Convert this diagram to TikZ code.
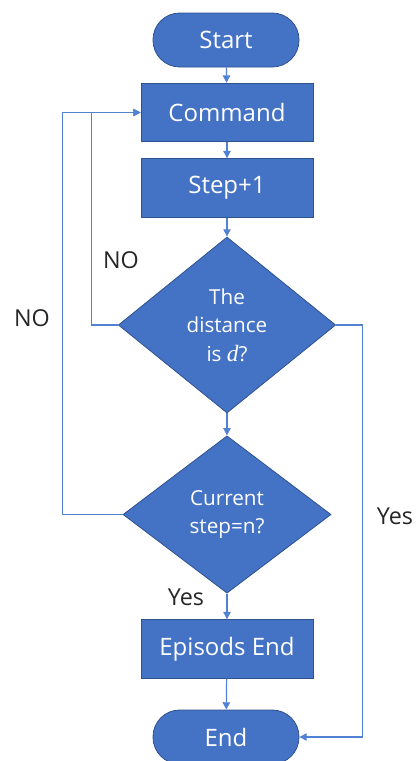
\documentclass[tikz,border=0pt]{standalone}
\usepackage{fontspec}
\setmainfont{Open Sans}
\newfontfamily\mathvar{Liberation Serif}
\usetikzlibrary{shapes.geometric,arrows.meta}
\definecolor{boxfill}{HTML}{4472C4}
\definecolor{boxline}{HTML}{2F528F}
\definecolor{flow}{HTML}{5081D3}
\begin{document}
\begin{tikzpicture}[x=0.75pt,y=-0.75pt,
  base/.style={fill=boxfill,draw=boxline,line width=0.6pt,text=white,font=\fontsize{18}{21}\selectfont,inner sep=0pt,align=center},
  terminal/.style={base,rectangle,rounded corners=20pt,minimum width=109.5pt,minimum height=40.5pt},
  process/.style={base,rectangle,minimum width=129pt,minimum height=44pt},
  decision/.style={base,diamond,font=\fontsize{15.5}{21.5}\selectfont},
  arr/.style={draw=flow,line width=0.9pt,-{Triangle[length=5.5pt,width=5.5pt]}},
  lbl/.style={font=\fontsize{17.5}{20}\selectfont,text=black!85,inner sep=0pt}]
\useasboundingbox (0,0) rectangle (416,761);

\node[terminal] (start) at (226,40) {Start};
\node[process] (cmd) at (227,112.5) {Command};
\node[process] (step) at (227,188) {Step+1};
\node[decision,minimum width=163pt,minimum height=132pt] (dist) at (227,325) {The\\distance\\is {\mathvar\itshape\fontsize{17.5}{20}\selectfont d}?};
\node[decision,minimum width=156pt,minimum height=118pt] (cur) at (227,514.5) {Current\\step=n?};
\node[process] (epi) at (227,649) {Episods End};
\node[terminal] (end) at (226,737) {End};

\draw[arr] (start) -- (cmd);
\draw[arr] (cmd) -- (step);
\draw[arr] (step) -- (dist);
\draw[arr] (dist) -- (cur);
\draw[arr] (cur) -- (epi);
\draw[arr] (epi) -- (end);
\draw[arr] (dist.west) -- ++(-26.5,0) |- (cmd.west);
\draw[arr] (cur.west) -- ++(-60,0) |- (cmd.west);
\draw[arr] (dist.east) -- ++(26.5,0) |- (end.east);

\node[lbl] (no1) at (121,260) {NO};
\node[lbl] (no2) at (32,318) {NO};
\node[lbl] (yes1) at (395,516) {Yes};
\node[lbl] (yes2) at (186,597) {Yes};
\end{tikzpicture}
\end{document}
